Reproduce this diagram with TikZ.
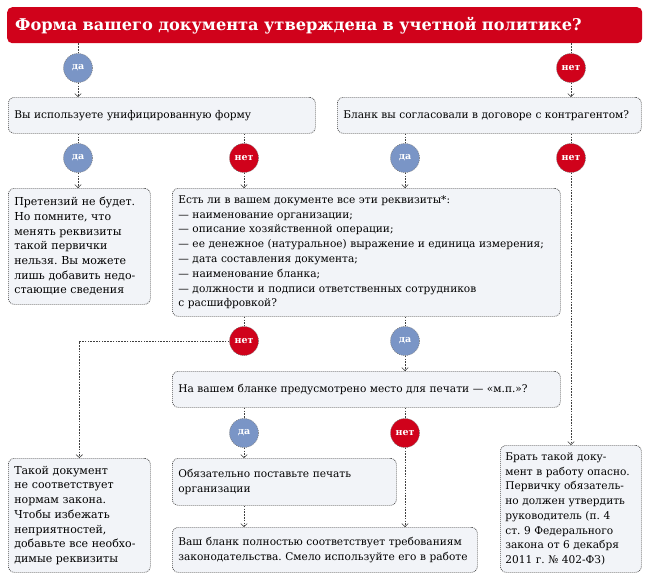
\documentclass[tikz,border=0pt]{standalone}
\usepackage{fontspec}
\setmainfont{DejaVu Serif}
\usetikzlibrary{positioning, arrows.meta, calc}

\definecolor{titlered}{RGB}{208,2,27}
\definecolor{yesblue}{RGB}{122,149,198}
\definecolor{boxfill}{RGB}{242,244,248}

\frenchspacing

\begin{document}
\begin{tikzpicture}[
    x=1pt, y=-1pt,
    % Clean, minimal styles
    titlebox/.style={
        rectangle,
        rounded corners=5pt,
        fill=titlered,
        anchor=north west,
        minimum width=635pt,
        minimum height=36pt,
        text width=619pt,
        inner xsep=8pt,
        align=left,
        text=white,
        font=\fontsize{16.2}{18}\selectfont\bfseries
    },
    qbox/.style={
        rectangle,
        rounded corners=6pt,
        draw=black!70,
        dash pattern=on 1pt off 1pt,
        line width=0.7pt,
        fill=boxfill,
        anchor=north west,
        inner xsep=6pt,
        align=left,
        font=\fontsize{10.6}{14.8}\selectfont
    },
    resbox/.style={
        qbox,
        inner xsep=6pt,
        font=\fontsize{11}{14.7}\selectfont
    },
    yescirc/.style={
        circle,
        minimum size=29pt,
        inner sep=0pt,
        fill=yesblue,
        draw=black!55,
        dash pattern=on 1pt off 1pt,
        line width=0.5pt,
        text=white,
        font=\fontsize{9.5}{9.5}\selectfont\bfseries
    },
    nocirc/.style={
        yescirc,
        fill=titlered
    },
    link/.style={
        draw=black!75,
        line width=0.6pt,
        dash pattern=on 1.6pt off 1.2pt
    },
    arrow/.style={
        link,
        -{Straight Barb[length=3pt,width=6.5pt,line width=0.6pt]}
    }
]

\useasboundingbox (0,0) rectangle (650,579);

% === Title ===
\node[titlebox] (title) at (7,7) {Форма вашего документа утверждена в учетной политике?};

% === Row 1 ===
\node[yescirc] (da1) at (78,68) {да};
\node[nocirc] (net1) at (571,68) {нет};
\node[qbox, minimum width=307pt, minimum height=36pt, text width=295pt] (q1) at (8,97)
    {Вы используете унифицированную форму};
\node[qbox, minimum width=304pt, minimum height=36pt, text width=292pt] (q2) at (337,97)
    {Бланк вы согласовали в договоре с контрагентом?};

% === Row 2 ===
\node[yescirc] (da2) at (78,158) {да};
\node[nocirc] (net2) at (244,158) {нет};
\node[yescirc] (da3) at (405,158) {да};
\node[nocirc] (net3) at (571,158) {нет};
\node[resbox, minimum width=142pt, minimum height=116pt, text width=130pt] (res1) at (8,188)
    {Претензий не будет.\\ Но помните, что\\ менять реквизиты\\ такой первички\\ нельзя. Вы можете\\ лишь добавить недо-\\ стающие сведения};
\node[qbox, minimum width=388pt, minimum height=128pt, text width=376pt] (q3) at (172,188)
    {Есть ли в вашем документе все эти реквизиты*:\\
     — наименование организации;\\
     — описание хозяйственной операции;\\
     — ее денежное (натуральное) выражение и единица измерения;\\
     — дата составления документа;\\
     — наименование бланка;\\
     — должности и подписи ответственных сотрудников\\
     с расшифровкой?};

% === Row 3 ===
\node[nocirc] (net4) at (244,341) {нет};
\node[yescirc] (da4) at (405,341) {да};
\node[qbox, minimum width=388pt, minimum height=36pt, text width=376pt] (q4) at (172,371)
    {На вашем бланке предусмотрено место для печати — «м.п.»?};

% === Row 4 ===
\node[yescirc] (da5) at (244,433) {да};
\node[nocirc] (net5) at (405,433) {нет};
\node[resbox, minimum width=142pt, minimum height=114pt, text width=130pt] (res2) at (8,458)
    {Такой документ\\ не соответствует\\ нормам закона.\\ Чтобы избежать\\ неприятностей,\\ добавьте все необхо-\\ димые реквизиты};
\node[qbox, minimum width=224pt, minimum height=47pt, text width=212pt] (res3) at (172,458)
    {Обязательно поставьте печать\\ организации};
\node[qbox, minimum width=305pt, minimum height=45pt, text width=293pt] (res4) at (172,527)
    {Ваш бланк полностью соответствует требованиям\\ законодательства. Смело используйте его в работе};
\node[resbox, inner xsep=5pt, font=\fontsize{10.6}{14.7}\selectfont,
      minimum width=141pt, minimum height=127pt, text width=131pt] (res5) at (500,445)
    {Брать такой доку-\\ мент в работу опасно.\\ Первичку обязатель-\\ но должен утвердить\\ руководитель (п. 4\\ ст. 9 Федерального\\ закона от 6 декабря\\ 2011 г. № 402-ФЗ)};

% === Connectors ===
\draw[link] (da1 |- title.south) -- (da1);
\draw[arrow] (da1) -- (da1 |- q1.north);
\draw[link] (net1 |- title.south) -- (net1);
\draw[arrow] (net1) -- (net1 |- q2.north);

\draw[link] (da2 |- q1.south) -- (da2);
\draw[arrow] (da2) -- (da2 |- res1.north);
\draw[link] (net2 |- q1.south) -- (net2);
\draw[arrow] (net2) -- (net2 |- q3.north);
\draw[link] (da3 |- q2.south) -- (da3);
\draw[arrow] (da3) -- (da3 |- q3.north);
\draw[link] (net3 |- q2.south) -- (net3);
\draw[arrow] (net3) -- (net3 |- res5.north);

\draw[link] (net4 |- q3.south) -- (net4);
\draw[arrow] (net4) -| (res2.north);
\draw[link] (da4 |- q3.south) -- (da4);
\draw[arrow] (da4) -- (da4 |- q4.north);

\draw[link] (da5 |- q4.south) -- (da5);
\draw[arrow] (da5) -- (da5 |- res3.north);
\draw[link] (net5 |- q4.south) -- (net5);
\draw[arrow] (net5) -- (net5 |- res4.north);
\draw[arrow] (da5 |- res3.south) -- (da5 |- res4.north);

\end{tikzpicture}
\end{document}
